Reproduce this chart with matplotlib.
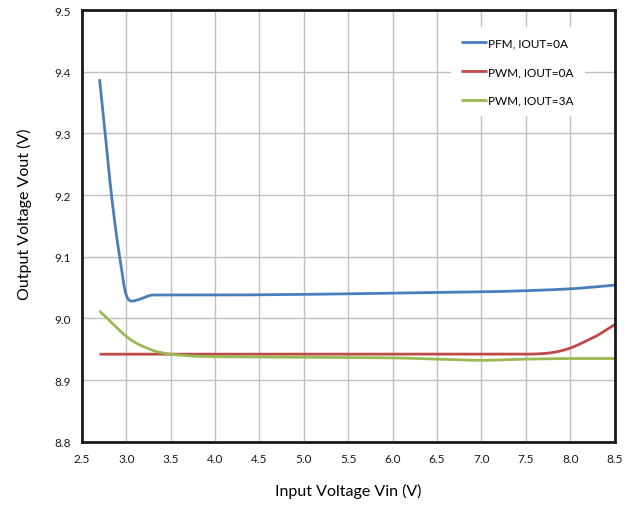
import numpy as np
import matplotlib
matplotlib.use("Agg")
import matplotlib.pyplot as plt

# =====================================
# Data
# =====================================

pfm_0a_vin = [2.70, 2.76, 2.83, 2.90, 2.95, 2.98, 3.00, 3.03, 3.06, 3.10, 3.15, 3.22, 3.30,
              4.0, 5.0, 6.0, 6.5, 7.0, 7.5, 8.0, 8.5]
pfm_0a_vout = [9.388, 9.305, 9.205, 9.125, 9.078, 9.050, 9.038, 9.030, 9.028, 9.029, 9.031, 9.035, 9.038,
               9.038, 9.039, 9.041, 9.042, 9.043, 9.045, 9.048, 9.054]

pwm_0a_vin = [2.70, 3.5, 4.5, 5.5, 6.5, 7.0, 7.5, 7.7, 7.85, 8.0, 8.1, 8.2, 8.3, 8.4, 8.5]
pwm_0a_vout = [8.942, 8.942, 8.942, 8.942, 8.942, 8.942, 8.942, 8.943, 8.946, 8.952, 8.958, 8.965, 8.972, 8.981, 8.990]

pwm_3a_vin = [2.70, 2.80, 2.90, 3.00, 3.10, 3.20, 3.35, 3.50, 3.75, 4.0, 5.0, 6.0, 6.5, 7.0, 7.5, 8.0, 8.5]
pwm_3a_vout = [9.012, 8.998, 8.984, 8.971, 8.961, 8.954, 8.946, 8.942, 8.939, 8.938, 8.937, 8.936, 8.934, 8.932, 8.934, 8.935, 8.935]

labels = ["PFM, IOUT=0A", "PWM, IOUT=0A", "PWM, IOUT=3A"]
colors = ["#4a7ebb", "#be4b48", "#98b954"]

x_ticks = np.arange(2.5, 8.51, 0.5)
y_ticks = np.arange(8.8, 9.51, 0.1)

# =====================================
# Plot
# =====================================

plt.rcParams["font.family"] = ["Lato", "DejaVu Sans"]

fig = plt.figure(figsize=(6.39, 5.06), dpi=100)
ax = fig.add_axes([0.128, 0.125, 0.834, 0.853])


def smooth(xs, ys, n=500):
    # monotone cubic (Fritsch-Carlson) through the read points, no overshoot
    xs = np.asarray(xs, dtype=float)
    ys = np.asarray(ys, dtype=float)
    h = np.diff(xs)
    d = np.diff(ys) / h
    m = np.zeros_like(ys)
    m[0], m[-1] = d[0], d[-1]
    for i in range(1, len(xs) - 1):
        if d[i - 1] * d[i] > 0:
            w1 = 2 * h[i] + h[i - 1]
            w2 = h[i] + 2 * h[i - 1]
            m[i] = (w1 + w2) / (w1 / d[i - 1] + w2 / d[i])
    t = np.linspace(xs[0], xs[-1], n)
    i = np.clip(np.searchsorted(xs, t, side="right") - 1, 0, len(xs) - 2)
    s = (t - xs[i]) / h[i]
    h00 = 2 * s**3 - 3 * s**2 + 1
    h10 = s**3 - 2 * s**2 + s
    h01 = -2 * s**3 + 3 * s**2
    h11 = s**3 - s**2
    out = h00 * ys[i] + h10 * h[i] * m[i] + h01 * ys[i + 1] + h11 * h[i] * m[i + 1]
    return t, out


series = [(pfm_0a_vin, pfm_0a_vout), (pwm_0a_vin, pwm_0a_vout), (pwm_3a_vin, pwm_3a_vout)]
for (xs, ys), lab, col in zip(series, labels, colors):
    sx, sy = smooth(xs, ys)
    ax.plot(sx, sy, color=col, lw=2, label=lab, solid_capstyle="butt")

ax.set_xlim(2.5, 8.5)
ax.set_ylim(8.8, 9.5)
ax.set_xticks(x_ticks)
ax.set_yticks(y_ticks)
ax.set_xticklabels([f"{v:.1f}" for v in x_ticks])
ax.set_yticklabels([f"{v:.1f}" for v in y_ticks])
ax.tick_params(axis="both", length=0, labelsize=8.5, pad=8, labelcolor="#1a1a1a")

ax.grid(True, color="#c0c0c0", lw=1)
ax.set_axisbelow(True)
for sp in ax.spines.values():
    sp.set_linewidth(2)
    sp.set_color("#1a1a1a")

ax.set_xlabel("Input Voltage Vin (V)", fontsize=11.5, labelpad=14)
ax.set_ylabel("Output Voltage Vout (V)", fontsize=11.5)
ax.yaxis.set_label_coords(-0.093, 0.53)

leg = ax.legend(loc="upper right", bbox_to_anchor=(0.95, 0.97), frameon=True,
                fontsize=8.5, handlelength=2.2, handletextpad=0.1,
                labelspacing=1.5, borderpad=0.9, borderaxespad=0.3)
leg.get_frame().set_edgecolor("none")
leg.get_frame().set_facecolor("white")
leg.get_frame().set_alpha(1)

fig.savefig("out.png", dpi=100)
